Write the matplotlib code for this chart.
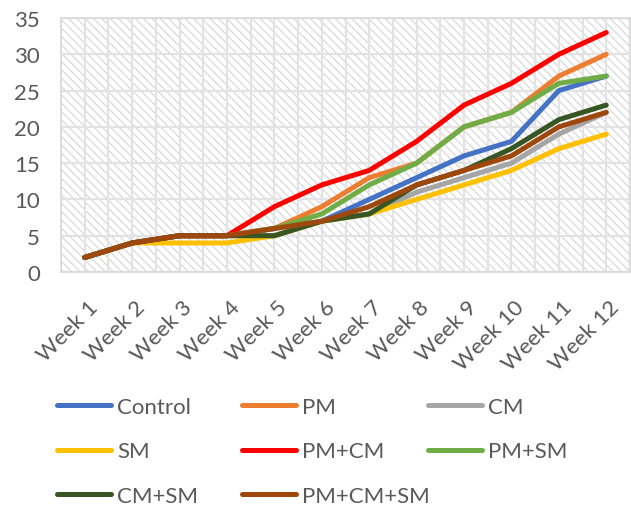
import matplotlib.pyplot as plt
import matplotlib.transforms as mtransforms
import numpy as np

weeks = ['Week 1', 'Week 2', 'Week 3', 'Week 4', 'Week 5', 'Week 6',
         'Week 7', 'Week 8', 'Week 9', 'Week 10', 'Week 11', 'Week 12']

control = [2, 4, 5, 5, 6, 7, 10, 13, 16, 18, 25, 27]
pm = [2, 4, 5, 5, 6, 9, 13, 15, 20, 22, 27, 30]
cm = [2, 4, 5, 5, 5, 7, 8, 11, 13, 15, 19, 22]
sm = [2, 4, 4, 4, 5, 7, 8, 10, 12, 14, 17, 19]
pm_cm = [2, 4, 5, 5, 9, 12, 14, 18, 23, 26, 30, 33]
pm_sm = [2, 4, 5, 5, 6, 8, 12, 15, 20, 22, 26, 27]
cm_sm = [2, 4, 5, 5, 5, 7, 8, 12, 14, 17, 21, 23]
pm_cm_sm = [2, 4, 5, 5, 6, 7, 9, 12, 14, 16, 20, 22]

series = [
    ('Control', control, '#4472C4'),
    ('PM', pm, '#ED7D31'),
    ('CM', cm, '#A5A5A5'),
    ('SM', sm, '#FFC000'),
    ('PM+CM', pm_cm, '#FF0000'),
    ('PM+SM', pm_sm, '#70AD47'),
    ('CM+SM', cm_sm, '#375623'),
    ('PM+CM+SM', pm_cm_sm, '#9E480E'),
]

plt.rcParams['font.family'] = ['Lato', 'DejaVu Sans']
plt.rcParams['hatch.color'] = '#dadada'
plt.rcParams['hatch.linewidth'] = 0.9

fig = plt.figure(figsize=(6.31, 5.10), dpi=100)
ax = fig.add_axes([61 / 631, 1 - 273 / 510, 569 / 631, 254 / 510])

ax.patch.set_facecolor('white')
ax.patch.set_hatch('\\\\\\\\')
ax.patch.set_edgecolor('#dadada')

x = np.arange(1, len(weeks) + 1)
lines = []
for name, vals, col in series:
    ln, = ax.plot(x, vals, color=col, lw=3.6, label=name,
                  solid_capstyle='round', solid_joinstyle='round', zorder=3)
    lines.append(ln)

ax.set_xlim(0.5, 12.5)
ax.set_ylim(0, 35)
ax.set_yticks(range(0, 36, 5))
ax.set_xticks(x)
ax.set_xticklabels(weeks, rotation=45, ha='right', va='center',
                   rotation_mode='anchor')
ax.set_xticks(np.arange(0.5, 13, 1), minor=True)
ax.grid(True, which='both', color='#e3e3e3', lw=1.6, zorder=1)
ax.set_axisbelow(True)
ax.tick_params(axis='both', which='both', length=0, labelsize=16,
               labelcolor='#595959')
ax.tick_params(axis='y', pad=15)
ax.tick_params(axis='x', pad=23)
shift = mtransforms.ScaledTranslation(7 / 72, 0, fig.dpi_scale_trans)
for lbl in ax.get_xticklabels():
    lbl.set_transform(lbl.get_transform() + shift)
for sp in ax.spines.values():
    sp.set_color('#d9d9d9')
    sp.set_linewidth(1.2)

# legend: one block per column so the columns sit where Excel put them
cols = [[0, 3, 6], [1, 4, 7], [2, 5]]
xpos = [57, 242, 428]
for c, xp in zip(cols, xpos):
    leg = fig.legend([lines[i] for i in c], [series[i][0] for i in c],
                     loc='upper left', bbox_to_anchor=(xp / 631, 1 - 398 / 510),
                     frameon=False, fontsize=16, handlelength=2.43,
                     handletextpad=0.27, labelspacing=1.1, borderpad=0,
                     borderaxespad=0, labelcolor='#595959')

fig.savefig('out.png', dpi=100)
